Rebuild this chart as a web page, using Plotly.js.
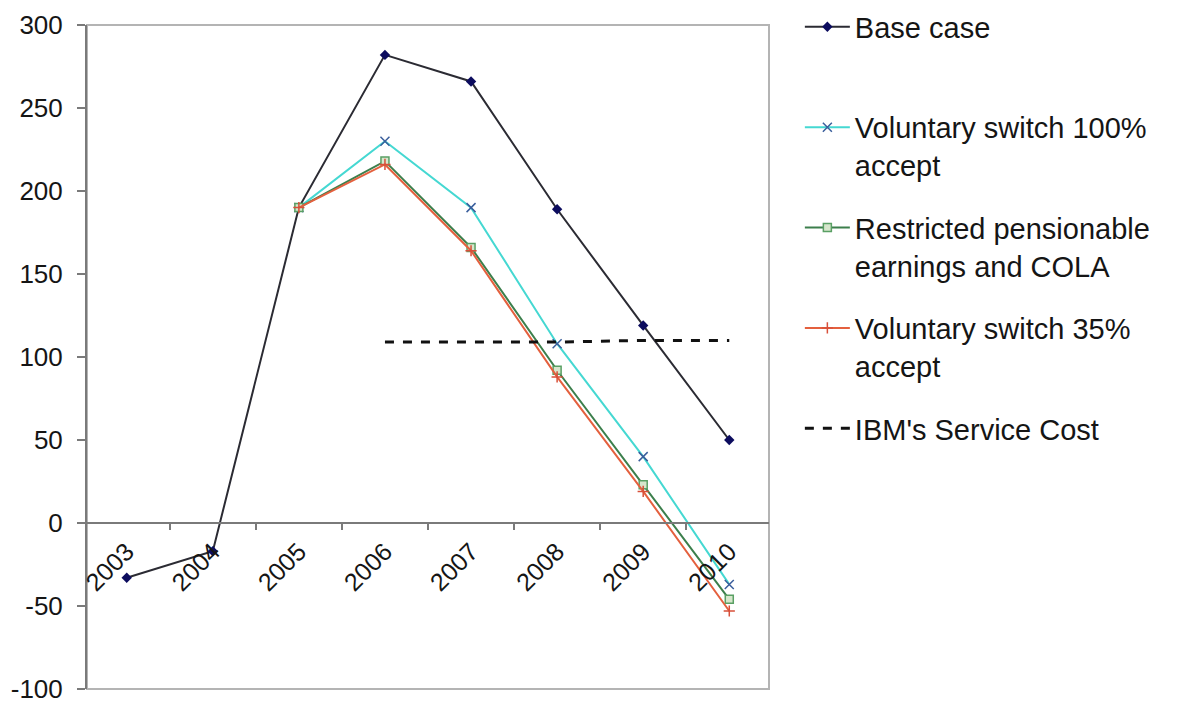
<!DOCTYPE html>
<html>
<head>
<meta charset="utf-8">
<script src="https://cdn.plot.ly/plotly-3.0.1.min.js"></script>
<style>
  html, body { margin: 0; padding: 0; background: #ffffff; }
  #chart { width: 1178px; height: 705px; }
</style>
</head>
<body>
<div id="chart"></div>
<script>
// Pension cost projections by scenario, 2003-2010
const years = ['2003', '2004', '2005', '2006', '2007', '2008', '2009', '2010'];

const baseCase       = [-33, -17, 190, 282, 266, 189, 119, 50];
const voluntary100   = [null, null, 190, 230, 190, 108, 40, -37];
const restrictedCola = [null, null, 190, 218, 166, 92, 23, -46];
const voluntary35    = [null, null, 190, 216, 164, 88, 19, -53];
const ibmServiceCost = [null, null, null, 109, 109, 109, 110, 110];

const seriesNames = [
  'Base case<br>\u00a0',
  'Voluntary switch 100%<br>accept',
  'Restricted pensionable<br>earnings and COLA',
  'Voluntary switch 35%<br>accept',
  "IBM's Service Cost"
];

const yTicks = [-100, -50, 0, 50, 100, 150, 200, 250, 300];

const font = 'Liberation Sans, Arial, sans-serif';

const traces = [
  {
    x: years, y: baseCase, name: seriesNames[0], legendgroup: 'g1', type: 'scatter', mode: 'lines+markers',
    line: { color: '#2b2b33', width: 2 },
    marker: { symbol: 'diamond', size: 8, color: '#0c0c5e' }
  },
  {
    x: years, y: voluntary100, name: seriesNames[1], legendgroup: 'g2', type: 'scatter', mode: 'lines+markers',
    line: { color: '#45d8d2', width: 2 },
    marker: { symbol: 'x-thin-open', size: 9, color: '#3a5e9c', line: { color: '#3a5e9c', width: 1.5 } }
  },
  {
    x: years, y: restrictedCola, name: seriesNames[2], legendgroup: 'g3', type: 'scatter', mode: 'lines+markers',
    line: { color: '#3c7f4c', width: 2 },
    marker: { symbol: 'square', size: 8, color: '#d6e6cc', line: { color: '#5aa064', width: 1.5 } }
  },
  {
    x: years, y: voluntary35, name: seriesNames[3], legendgroup: 'g4', type: 'scatter', mode: 'lines+markers',
    line: { color: '#e4603e', width: 2 },
    marker: { symbol: 'cross-thin-open', size: 8, color: '#d8503a', line: { color: '#d8503a', width: 1.5 } }
  },
  {
    x: years, y: ibmServiceCost, name: seriesNames[4], legendgroup: 'g5', type: 'scatter', mode: 'lines',
    line: { color: '#111111', width: 3, dash: 'dash' }
  }
];

const layout = {
  width: 1178,
  height: 705,
  margin: { l: 87, r: 409, t: 25, b: 16, pad: 0 },
  paper_bgcolor: '#ffffff',
  plot_bgcolor: '#ffffff',
  font: { family: font, color: '#151515', size: 26 },
  showlegend: true,
  legend: {
    xref: 'container', yref: 'container',
    x: 0.679, y: 0.998, xanchor: 'left', yanchor: 'top',
    valign: 'top',
    traceorder: 'grouped',
    tracegroupgap: 22,
    maxheight: 700,
    font: { family: font, size: 29, color: '#151515' },
    bgcolor: 'rgba(0,0,0,0)',
    itemwidth: 45
  },
  xaxis: {
    type: 'category',
    anchor: 'free',
    position: 0.25,
    showline: true,
    linecolor: '#7a7a7a',
    linewidth: 2,
    ticks: 'outside',
    tickson: 'boundaries',
    ticklen: 6,
    tickwidth: 1.5,
    tickcolor: '#7a7a7a',
    tickangle: -45,
    ticklabelstandoff: 3,
    tickfont: { family: font, size: 25, color: '#151515' },
    showgrid: false,
    zeroline: false,
    fixedrange: true
  },
  yaxis: {
    range: [-100, 300],
    tickvals: yTicks,
    ticktext: yTicks.map(String),
    showline: true,
    linecolor: '#7a7a7a',
    linewidth: 2,
    ticks: 'outside',
    ticklen: 8,
    tickwidth: 1.5,
    tickcolor: '#7a7a7a',
    ticklabelstandoff: 9,
    tickfont: { family: font, size: 26, color: '#151515' },
    showgrid: false,
    zeroline: false,
    fixedrange: true
  },
  shapes: [
    {
      type: 'rect', xref: 'paper', yref: 'paper', x0: 0, x1: 1, y0: 0, y1: 1,
      line: { color: '#b4b4b4', width: 2 }, layer: 'below'
    }
  ]
};

Plotly.newPlot('chart', traces, layout, { staticPlot: true, displayModeBar: false });
</script>
</body>
</html>
